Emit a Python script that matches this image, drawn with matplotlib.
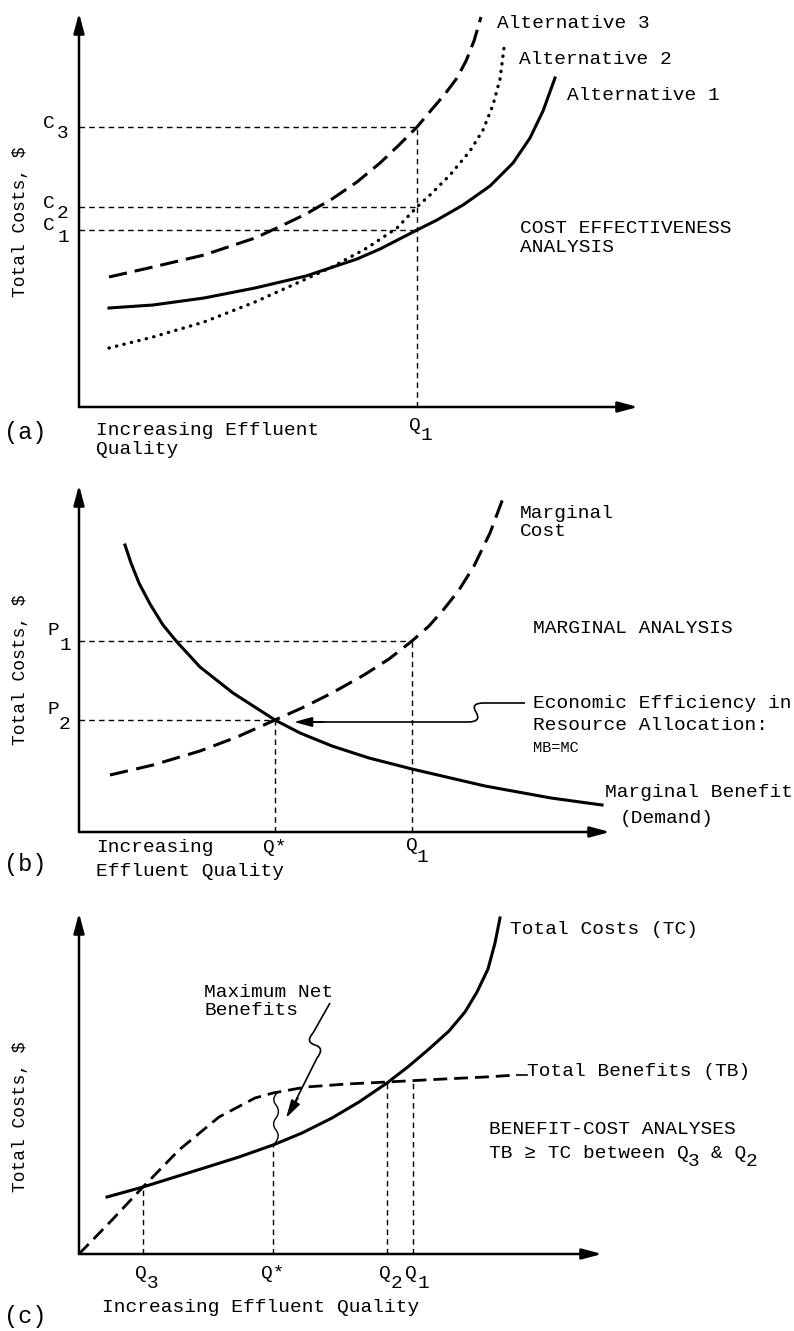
"""Three-panel sketch: cost effectiveness, marginal and benefit-cost analyses."""
import matplotlib
matplotlib.use("Agg")
import matplotlib.pyplot as plt
from matplotlib.path import Path
from matplotlib.patches import PathPatch

plt.rcParams["font.family"] = ["Liberation Mono", "DejaVu Sans Mono"]
plt.rcParams["font.size"] = 14

W, H = 794, 1331
CH = 11.67  # advance of one mono character at 14 pt, px

# ---- (a) cost effectiveness (data unit = 10 px from the axis origin)
alt1_x = [3.0, 7.4, 12.5, 17.6, 22.7, 27.8, 30.1, 33.8, 35.8, 38.4, 41.1, 43.4, 45.1, 46.4, 47.6]
alt1_y = [9.9, 10.2, 10.9, 11.9, 13.1, 14.8, 15.8, 17.7, 18.7, 20.2, 22.1, 24.4, 26.9, 29.6, 32.9]
alt2_x = [3.0, 7.4, 12.5, 17.6, 22.7, 25.3, 28.8, 31.8, 33.8, 35.1, 37.1, 39.1, 40.4, 41.4, 42.1, 42.5]
alt2_y = [5.9, 7.0, 8.5, 10.5, 12.8, 14.0, 15.9, 17.9, 20.0, 21.2, 23.2, 25.6, 27.7, 30.2, 32.8, 35.9]
alt3_x = [3.0, 7.4, 12.5, 17.6, 20.0, 22.7, 25.3, 27.8, 30.1, 32.0, 33.8, 35.4, 36.6, 37.8, 38.7, 39.5, 40.2]
alt3_y = [13.0, 14.0, 15.2, 16.9, 18.0, 19.3, 20.8, 22.5, 24.4, 26.2, 28.0, 29.9, 31.3, 32.9, 34.6, 36.6, 39.0]
q1_a = 33.8
c_levels = [17.7, 20.0, 28.0]
c_subs = ["1", "2", "3"]

# ---- (b) marginal analysis
mc_x = [3.1, 7.4, 12.1, 15.8, 19.6, 22.5, 25.3, 28.5, 31.0, 33.3, 35.0, 36.5, 38.0, 39.5, 41.1, 42.6]
mc_y = [5.7, 6.7, 8.1, 9.5, 11.2, 12.5, 13.9, 15.7, 17.3, 19.1, 20.6, 22.3, 24.2, 26.6, 29.9, 33.9]
mb_x = [4.6, 5.2, 6.0, 7.1, 8.4, 9.8, 12.1, 15.4, 19.6, 22.1, 25.3, 29.0, 33.3, 40.6, 47.2, 52.3]
mb_y = [28.7, 26.9, 24.9, 22.8, 20.7, 19.0, 16.5, 13.9, 11.2, 9.9, 8.6, 7.4, 6.3, 4.6, 3.4, 2.7]
q_star_b, q1_b = 19.6, 33.3
p_levels = [19.1, 11.2]
p_subs = ["1", "2"]

# ---- (c) benefit-cost analyses
tc_x = [2.8, 6.4, 12.5, 16.0, 19.4, 22.3, 25.3, 28.0, 30.8, 33.0, 35.0, 37.0, 38.6, 39.8, 40.9, 41.6, 42.1]
tc_y = [5.7, 6.7, 8.6, 9.7, 10.9, 12.1, 13.6, 15.2, 17.1, 18.8, 20.5, 22.3, 24.2, 26.2, 28.5, 31.1, 33.6]
tb_x = [0.0, 3.3, 6.4, 10.0, 14.0, 17.6, 19.4, 22.7, 26.8, 30.8, 35.5, 40.6, 43.8]
tb_y = [0.0, 3.4, 6.7, 10.4, 13.7, 15.6, 16.1, 16.7, 17.0, 17.2, 17.45, 17.7, 17.9]
q_c = [6.4, 19.4, 30.8, 33.4]
q_c_top = [6.7, 10.9, 17.2, 17.4]
q_c_names = [("Q", "3"), ("Q*", ""), ("Q", "2"), ("Q", "1")]

GUIDE = dict(color="k", lw=1.0, linestyle=(0, (4, 3)))
ARROW = dict(arrowstyle="-|>,head_length=1.2,head_width=0.32", lw=1.8,
             color="k", shrinkA=0, shrinkB=0, mutation_scale=10)
POINTER = dict(arrowstyle="-|>,head_length=1.1,head_width=0.3", lw=1.2,
               color="k", shrinkA=0, shrinkB=0, mutation_scale=10)

fig = plt.figure(figsize=(W / 100, H / 100), dpi=100)


def panel(ox, oy, right, top):
    """axes whose data origin sits on pixel (ox, oy), 10 px per unit"""
    ax = fig.add_axes([ox / W, 1 - oy / H, (right - ox) / W, (oy - top) / H])
    xmax, ymax = (right - ox) / 10, (oy - top) / 10
    ax.set_xlim(0, xmax)
    ax.set_ylim(0, ymax)
    ax.set_axis_off()
    ax.annotate("", xy=(xmax, 0), xytext=(0, 0), arrowprops=ARROW, annotation_clip=False)
    ax.annotate("", xy=(0, ymax), xytext=(0, 0), arrowprops=ARROW, annotation_clip=False)
    return ax


def lab(ax, x, y, s, dx=0, dy=0, ha="center", va="center", **kw):
    # dx, dy are pixel offsets (dy positive = down)
    ax.annotate(s, (x, y), xytext=(dx * 0.72, -dy * 0.72), textcoords="offset points",
                ha=ha, va=va, annotation_clip=False, **kw)


def squiggle(ax, verts, codes, lw=1.2):
    ax.add_patch(PathPatch(Path(verts, codes), fill=False, lw=lw, color="k", clip_on=False))


# ===================== (a)
ax = panel(79, 407, 638, 13)
ax.plot(alt1_x, alt1_y, color="k", lw=2.2)
ax.plot(alt2_x, alt2_y, color="k", lw=2.4, linestyle=(0, (0.1, 2.2)), dash_capstyle="round")
ax.plot(alt3_x, alt3_y, color="k", lw=2.2, linestyle=(0, (6, 2.6)))
for c, s in zip(c_levels, c_subs):
    ax.plot([0, q1_a], [c, c], **GUIDE)
    lab(ax, 0, c, "C", dx=-30, dy=-4)
    lab(ax, 0, c, s, dx=-16, dy=7)
ax.plot([q1_a, q1_a], [0, max(c_levels)], **GUIDE)
lab(ax, q1_a, 0, "Q", dx=-2, dy=19)
lab(ax, q1_a, 0, "1", dx=9, dy=28)
lab(ax, 41.8, 38.3, "Alternative 3", ha="left")
lab(ax, 44.0, 34.7, "Alternative 2", ha="left")
lab(ax, 48.8, 31.1, "Alternative 1", ha="left")
lab(ax, 44.1, 16.9, "COST EFFECTIVENESS\nANALYSIS", ha="left", linespacing=1.15)
lab(ax, 1.7, -3.3, "Increasing Effluent\nQuality", ha="left", linespacing=1.2)
lab(ax, -5.8, 18.5, "Total Costs, $", rotation=90, size=13)
lab(ax, -5.4, -2.6, "(a)", size=17)

# ===================== (b)
ax = panel(79, 832, 610, 485)
ax.plot(mb_x, mb_y, color="k", lw=2.2)
ax.plot(mc_x, mc_y, color="k", lw=2.2, linestyle=(0, (6, 2.8)))
for p, s, q in zip(p_levels, p_subs, [q1_b, q_star_b]):
    ax.plot([0, q], [p, p], **GUIDE)
    ax.plot([q, q], [0, p], **GUIDE)
    lab(ax, 0, p, "P", dx=-26, dy=-11)
    lab(ax, 0, p, s, dx=-14, dy=4)
lab(ax, q_star_b, 0, "Q*", dy=15)
lab(ax, q1_b, 0, "Q", dy=14)
lab(ax, q1_b, 0, "1", dx=10, dy=25)
squiggle(ax,
         [(44.6, 12.9), (40.5, 12.9), (39.1, 12.9), (39.7, 12.0), (40.3, 11.0),
          (38.9, 11.0), (22.5, 11.0)],
         [Path.MOVETO, Path.LINETO, Path.CURVE3, Path.CURVE3, Path.CURVE3,
          Path.CURVE3, Path.LINETO])
ax.annotate("", xy=(21.5, 11.0), xytext=(24.5, 11.0), annotation_clip=False, arrowprops=POINTER)
lab(ax, 44.1, 30.95, "Marginal\nCost", ha="left", linespacing=1.15)
lab(ax, 45.4, 20.4, "MARGINAL ANALYSIS", ha="left")
lab(ax, 45.4, 12.9, "Economic Efficiency in", ha="left")
lab(ax, 45.4, 10.7, "Resource Allocation:", ha="left")
lab(ax, 45.4, 8.4, "MB=MC", ha="left", size=11)
lab(ax, 52.6, 4.0, "Marginal Benefit", ha="left")
lab(ax, 54.1, 1.4, "(Demand)", ha="left")
lab(ax, 1.7, -1.5, "Increasing", ha="left")
lab(ax, 1.7, -4.0, "Effluent Quality", ha="left")
lab(ax, -5.8, 16.2, "Total Costs, $", rotation=90, size=13)
lab(ax, -5.4, -3.3, "(b)", size=17)

# ===================== (c)
ax = panel(79, 1254, 602, 913)
ax.plot(tc_x, tc_y, color="k", lw=2.2)
ax.plot(tb_x, tb_y, color="k", lw=2.0, linestyle=(0, (5, 2.5)))
ax.plot([tb_x[-1], 44.8], [tb_y[-1], tb_y[-1]], color="k", lw=1.2)
for q, top, (b, s) in zip(q_c, q_c_top, q_c_names):
    ax.plot([q, q], [0, top], **GUIDE)
    lab(ax, q, 0, b, dx=-2 if s else 0, dy=20)
    if s:
        lab(ax, q, 0, s, dx=10, dy=30)
# wavy bracket between TB and TC at Q*
squiggle(ax,
         [(19.6, 11.1), (20.2, 11.75), (19.7, 12.4), (19.2, 13.0), (19.7, 13.6),
          (20.2, 14.25), (19.7, 14.9), (19.2, 15.5), (19.8, 16.1)],
         [Path.MOVETO] + [Path.CURVE3] * 8, lw=1.0)
# pointer from the "Maximum Net Benefits" note
squiggle(ax,
         [(25.1, 25.1), (23.4, 22.1), (22.6, 21.2), (23.6, 20.9), (24.6, 20.6),
          (23.8, 19.6), (21.3, 14.6)],
         [Path.MOVETO, Path.LINETO, Path.CURVE3, Path.CURVE3, Path.CURVE3,
          Path.CURVE3, Path.LINETO])
ax.annotate("", xy=(20.7, 13.6), xytext=(21.9, 15.6), annotation_clip=False, arrowprops=POINTER)
lab(ax, 12.5, 25.25, "Maximum Net\nBenefits", ha="left", linespacing=1.15)
lab(ax, 43.1, 32.4, "Total Costs (TC)", ha="left")
lab(ax, 44.8, 18.3, "Total Benefits (TB)", ha="left")
lab(ax, 41.0, 12.4, "BENEFIT-COST ANALYSES", ha="left")
# "TB >= TC between Q3 & Q2", pieces laid out on the mono grid
lab(ax, 41.0, 10.1, "TB \u2265 TC between Q", ha="left")
lab(ax, 41.0, 10.1, "3", ha="left", dx=17 * CH, dy=8)
lab(ax, 41.0, 10.1, "& Q", ha="left", dx=19 * CH)
lab(ax, 41.0, 10.1, "2", ha="left", dx=22 * CH, dy=8)
lab(ax, 2.3, -5.4, "Increasing Effluent Quality", ha="left")
lab(ax, -5.8, 13.7, "Total Costs, $", rotation=90, size=13)
lab(ax, -5.4, -6.3, "(c)", size=17)

fig.savefig("out.png", dpi=100)
